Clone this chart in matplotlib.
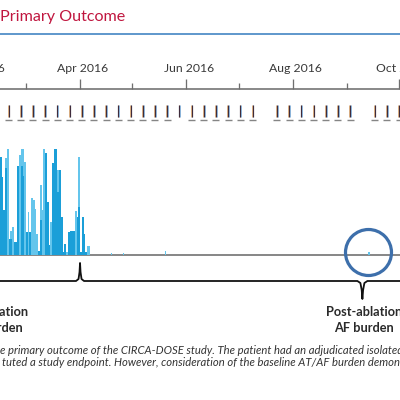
import matplotlib
matplotlib.use("Agg")
import matplotlib.pyplot as plt
import matplotlib.dates as mdates
import matplotlib.transforms as mtrans
import numpy as np
import datetime as dt

plt.rcParams['font.family'] = ['Lato', 'DejaVu Sans']

# ---------------- data ----------------
title = "Primary Outcome"
bar_start = dt.date(2016, 2, 15)
dark_vals = [92, 73, 42, 82, 0, 15, 15, 0, 12, 12, 84, 0, 84, 74, 0, 21, 0, 21, 0, 0,
             0, 0, 3, 33, 0, 0, 96, 50, 9, 0, 87, 100, 100, 59, 80, 36, 2, 10, 0, 21,
             22, 22, 22, 0, 36, 45, 2, 36, 19, 2, 0, 0]
light_vals = [0, 0, 0, 91, 100, 0, 22, 26, 0, 0, 0, 94, 100, 100, 88, 0, 40, 0, 54, 52,
              43, 19, 0, 66, 42, 100, 0, 0, 0, 31, 0, 0, 0, 80, 0, 0, 0, 0, 2, 0,
              0, 0, 0, 41, 0, 92, 0, 0, 0, 0, 8, 8]
blip_dates = [dt.date(2016, 4, 19), dt.date(2016, 4, 26), dt.date(2016, 5, 20), dt.date(2016, 9, 14)]
blip_vals = [1.5, 1.5, 3, 2]
highlight_date = dt.date(2016, 9, 13)
ablation_date = dt.date(2016, 4, 1)
post_label_date = dt.date(2016, 9, 10)
pre_label_date = dt.date(2016, 2, 10)
first_transmission = dt.date(2016, 2, 20)
n_transmissions = 33
missed_transmissions = [dt.date(2016, 7, 16), dt.date(2016, 9, 10)]
no_review = [dt.date(2016, 5, 28)]
caption = ["e primary outcome of the CIRCA-DOSE study. The patient had an adjudicated isolated",
           "tuted a study endpoint. However, consideration of the baseline AT/AF burden demons"]

# ---------------- layout helpers ----------------
PX = 72 / 100.0
W = 400.0
mar1 = mdates.date2num(dt.date(2016, 3, 1))
ppd = 373 / 214.0
xmin = mar1 - 26 / ppd
xmax = xmin + W / ppd

def d(p):
    return p / ppd

fig = plt.figure(figsize=(4, 4), dpi=100)
fig.patch.set_facecolor('white')

ax = fig.add_axes([0, 0, 1, 1])
ax.set_xlim(xmin, xmax)
ax.set_ylim(400, 0)
ax.axis('off')

# title + rule
ax.text(xmin, 17, title, color='#c0163f', fontsize=11.6, ha='left', va='center')
ax.axhline(33.5, color='#2f78bd', lw=1.5 * PX)

# timeline axis (wider than the figure so the partially visible labels show)
ext = 60.0  # px beyond each side
ax_t = fig.add_axes([-ext / W, 1 - 88.5 / 400 - 0.002, 1 + 2 * ext / W, 0.002])
ax_t.set_xlim(xmin - d(ext), xmax + d(ext))
ax_t.patch.set_visible(False)
for s in ['left', 'right', 'bottom']:
    ax_t.spines[s].set_visible(False)
ax_t.spines['top'].set_color('#6f6f6f')
ax_t.spines['top'].set_linewidth(1.6 * PX)
ax_t.xaxis.tick_top()
ax_t.set_yticks([])
ax_t.xaxis.set_major_locator(mdates.MonthLocator(bymonth=[2, 4, 6, 8, 10]))
ax_t.xaxis.set_minor_locator(mdates.MonthLocator(bymonth=[1, 3, 5, 7, 9, 11]))
ax_t.xaxis.set_major_formatter(mdates.DateFormatter('%b %Y'))
ax_t.tick_params(axis='x', which='major', length=10 * PX, width=1.3 * PX, color='#6f6f6f',
                 pad=5 * PX, labelsize=8.8, labelcolor='#3a3a3a')
ax_t.tick_params(axis='x', which='minor', length=6 * PX, width=1.3 * PX, color='#6f6f6f')

# weekly transmission markers
tx = [first_transmission + dt.timedelta(days=7 * i) for i in range(n_transmissions)]
tx = [t for t in tx if t not in missed_transmissions]
txn = np.asarray(mdates.date2num(tx))
ax.vlines(txn - d(0.8), 105, 117, color='#e3a96b', lw=0.8 * PX)
ax.vlines(txn + d(0.8), 105, 117, color='#7bb6e6', lw=0.8 * PX)
ax.vlines(txn, 105, 117, color='#3f2c3c', lw=1.2 * PX)
ul = np.asarray(mdates.date2num([t for t in tx if t not in no_review]))
ax.hlines(np.full(len(ul), 119.5), ul - d(3.5), ul + d(3.5), color='#858585', lw=1.4 * PX)

# burden bars
ax_b = fig.add_axes([0, (400 - 256) / 400, 1, 107 / 400])
ax_b.set_xlim(xmin, xmax)
ax_b.set_ylim(-1.4, 100)
ax_b.axis('off')
bdates = mdates.date2num([bar_start + dt.timedelta(days=i) for i in range(len(dark_vals))])
ax_b.axhline(-0.75, color='#6d6d6d', lw=1.6 * PX, zorder=0)
ax_b.bar(bdates, light_vals, width=1.0, align='edge', color='#64c5ec', lw=0, zorder=1)
ax_b.bar(bdates, dark_vals, width=1.0, align='edge', color='#1b9fd8', lw=0, zorder=2)
ax_b.bar(mdates.date2num(blip_dates), blip_vals, width=1.0, align='center', color='#64c5ec', lw=0, zorder=2)
ax_b.plot([mdates.date2num(highlight_date)], [2.4], marker='o', ms=46 * PX, mfc='none',
          mec='#3d6fab', mew=3.2 * PX, clip_on=False, zorder=3)

# braces
a = mdates.date2num(ablation_date)
p = mdates.date2num(post_label_date)
yb = 281
bx = [xmin, a - d(4), a - d(1.5), a - d(0.5), a, a + d(0.5), a + d(1.5), a + d(4),
      p - d(5), p - d(2), p - d(0.7), p, p + d(0.7), p + d(2), p + d(5), xmax]
by = [yb, yb, yb - 2, yb - 9, yb - 18, yb - 9, yb - 2, yb,
      yb, yb + 2, yb + 9, yb + 18, yb + 9, yb + 2, yb, yb]
ax.plot(bx, by, color='#111111', lw=1.8 * PX, solid_joinstyle='round')

# labels
for xd, lines in [(p, ["Post-ablation", "AF burden"]),
                  (mdates.date2num(pre_label_date), ["Pre-ablation", "AF burden"])]:
    ax.text(xd + d(2), 312, lines[0], ha='center', va='center', fontsize=9.2, fontweight='bold', color='#2a2a2a')
    ax.text(xd + d(2), 328, lines[1], ha='center', va='center', fontsize=9.2, fontweight='bold', color='#2a2a2a')

ax.text(xmin, 350, caption[0], ha='left', va='center', fontsize=8.1, style='italic', color='#333333')
ax.text(xmin + d(2), 363, caption[1], ha='left', va='center', fontsize=8.1, style='italic', color='#333333')

# shift the month labels slightly right, as in the reference
fig.canvas.draw()
shift = mtrans.ScaledTranslation(3 / 100.0, 0, fig.dpi_scale_trans)
for tk in ax_t.xaxis.get_major_ticks():
    tk.label2.set_transform(tk.label2.get_transform() + shift)

fig.savefig('out.png', dpi=100, facecolor='white')
